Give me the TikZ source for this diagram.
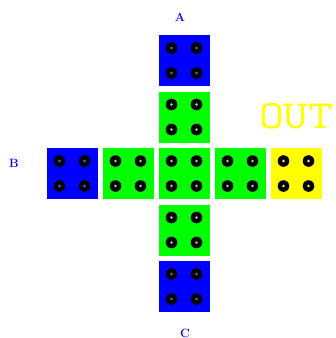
\documentclass[tikz,border=0pt]{standalone}
\usepackage{fontspec}
\definecolor{cblue}{RGB}{0,0,255}
\definecolor{cgreen}{RGB}{0,255,0}
\definecolor{cyellow}{RGB}{255,255,0}
\usetikzlibrary{calc}
\tikzset{
  sq/.style={draw=none, minimum width=51pt, minimum height=51pt, inner sep=0pt, outer sep=0pt},
  lbl/.style={text=cblue, font=\bfseries\fontsize{12}{12}\selectfont, inner sep=0pt},
}
\newcommand{\holes}[2]{%
  \foreach \dx in {-12.5,12.5}{\foreach \dy in {-12.5,12.5}{%
    \fill[black] ($(#1.center)+(\dx,\dy)$) circle (5.8pt);
    \fill[#2!60!white] ($(#1.center)+(\dx,\dy)$) circle (1.3pt);
  }}}
\begin{document}
\begin{tikzpicture}[x=1pt,y=-1pt]
\useasboundingbox (0,0) rectangle (336,338);
\node[sq, fill=cblue] (a) at (184,60.5) {};
\node[sq, fill=cgreen] (n) at (184,117) {};
\node[sq, fill=cgreen] (c) at (184,173.5) {};
\node[sq, fill=cgreen] (s) at (184,230) {};
\node[sq, fill=cblue] (cc) at (184,286.5) {};
\node[sq, fill=cblue] (b) at (72,173.5) {};
\node[sq, fill=cgreen] (w) at (128,173.5) {};
\node[sq, fill=cgreen] (e) at (240,173.5) {};
\node[sq, fill=cyellow] (o) at (296,173.5) {};
\holes{a}{cblue}
\holes{n}{cgreen}
\holes{c}{cgreen}
\holes{s}{cgreen}
\holes{cc}{cblue}
\holes{b}{cblue}
\holes{w}{cgreen}
\holes{e}{cgreen}
\holes{o}{cyellow}
\node[lbl] (la) at (180,17) {A};
\node[lbl] (lb) at (14,163) {B};
\node[lbl] (lc) at (185,333) {C};
\node[text=cyellow, font=\ttfamily\fontsize{40}{40}\selectfont, anchor=base west, inner sep=0pt, xscale=1.2] (out) at (259,128) {OUT};
\end{tikzpicture}
\end{document}
